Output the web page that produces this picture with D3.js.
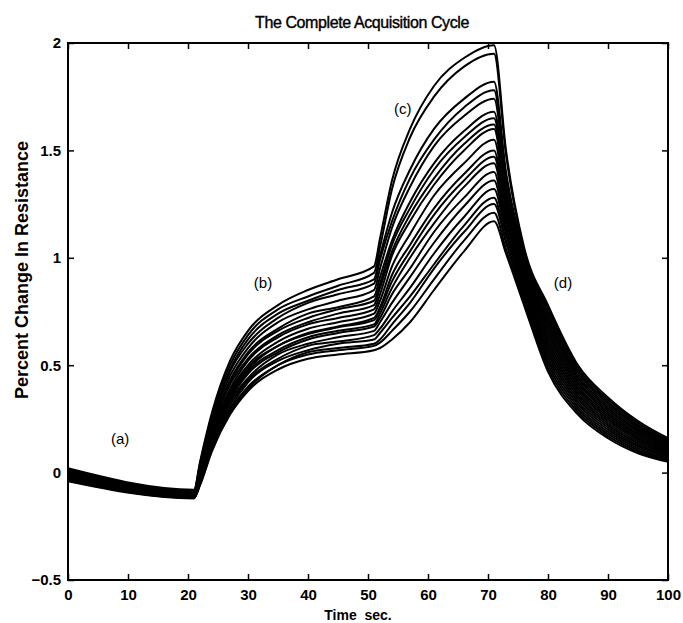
<!DOCTYPE html>
<html>
<head>
<meta charset="utf-8">
<script src="https://cdn.jsdelivr.net/npm/d3@7"></script>
<style>
    body { margin: 0; background: #fff; }
    .chart text { font-family: "Liberation Sans", Arial, sans-serif; fill: #000; }
</style>
</head>
<body>
<div class="chart"></div>
<script>
// sample times (sec) shared by every run
const timeSec = [0, 21, 22, 24, 27, 30, 35, 40, 45, 51, 52, 54, 57, 61, 66, 71, 73, 76, 80, 85, 90, 95, 100];

// percent change in resistance, one array per acquisition run (top to bottom)
const run01 = [0.02, -0.08, 0.05, 0.28, 0.52, 0.66, 0.78, 0.85, 0.90, 0.96, 1.09, 1.36, 1.60, 1.80, 1.93, 1.99, 1.50, 1.05, 0.78, 0.50, 0.35, 0.24, 0.16];
const run02 = [0.015, -0.083, 0.04, 0.27, 0.50, 0.64, 0.76, 0.82, 0.87, 0.93, 1.05, 1.32, 1.56, 1.75, 1.89, 1.95, 1.48, 1.036, 0.764, 0.488, 0.34, 0.232, 0.154];
const run03 = [0.011, -0.086, 0.03, 0.25, 0.48, 0.62, 0.74, 0.80, 0.85, 0.90, 1.01, 1.21, 1.41, 1.60, 1.74, 1.82, 1.40, 1.022, 0.747, 0.476, 0.33, 0.224, 0.148];
const run04 = [0.008, -0.088, 0.03, 0.24, 0.47, 0.60, 0.72, 0.79, 0.83, 0.88, 0.99, 1.17, 1.37, 1.55, 1.70, 1.78, 1.38, 1.007, 0.731, 0.464, 0.32, 0.216, 0.143];
const run05 = [0.003, -0.091, 0.02, 0.23, 0.45, 0.58, 0.70, 0.76, 0.80, 0.85, 0.95, 1.14, 1.33, 1.52, 1.66, 1.74, 1.36, 0.993, 0.715, 0.451, 0.31, 0.208, 0.137];
const run06 = [-0.002, -0.094, 0.01, 0.22, 0.43, 0.56, 0.67, 0.74, 0.77, 0.82, 0.91, 1.08, 1.26, 1.44, 1.59, 1.68, 1.32, 0.979, 0.698, 0.44, 0.30, 0.20, 0.131];
const run07 = [-0.005, -0.096, 0.005, 0.21, 0.42, 0.55, 0.66, 0.72, 0.76, 0.80, 0.88, 1.06, 1.23, 1.41, 1.56, 1.65, 1.30, 0.965, 0.682, 0.427, 0.29, 0.193, 0.125];
const run08 = [-0.008, -0.098, -0.001, 0.20, 0.41, 0.53, 0.64, 0.70, 0.74, 0.78, 0.86, 1.03, 1.20, 1.37, 1.53, 1.62, 1.28, 0.951, 0.666, 0.415, 0.28, 0.185, 0.12];
const run09 = [-0.011, -0.10, -0.006, 0.19, 0.39, 0.52, 0.63, 0.69, 0.72, 0.76, 0.83, 1.01, 1.17, 1.34, 1.50, 1.60, 1.27, 0.936, 0.649, 0.403, 0.27, 0.177, 0.114];
const run10 = [-0.014, -0.102, -0.012, 0.18, 0.38, 0.50, 0.61, 0.67, 0.70, 0.74, 0.80, 0.96, 1.11, 1.29, 1.44, 1.55, 1.24, 0.922, 0.633, 0.391, 0.26, 0.169, 0.108];
const run11 = [-0.017, -0.105, -0.018, 0.17, 0.37, 0.49, 0.59, 0.65, 0.68, 0.72, 0.77, 0.92, 1.06, 1.23, 1.39, 1.50, 1.21, 0.908, 0.617, 0.379, 0.25, 0.161, 0.102];
const run12 = [-0.018, -0.106, -0.02, 0.165, 0.36, 0.48, 0.59, 0.645, 0.676, 0.71, 0.76, 0.89, 1.03, 1.20, 1.36, 1.47, 1.20, 0.894, 0.60, 0.367, 0.24, 0.153, 0.096];
const run13 = [-0.021, -0.108, -0.026, 0.156, 0.35, 0.47, 0.57, 0.63, 0.66, 0.69, 0.74, 0.86, 1.00, 1.16, 1.33, 1.44, 1.18, 0.879, 0.584, 0.355, 0.23, 0.145, 0.09];
const run14 = [-0.023, -0.109, -0.029, 0.15, 0.34, 0.46, 0.56, 0.62, 0.65, 0.68, 0.72, 0.83, 0.95, 1.12, 1.28, 1.40, 1.15, 0.865, 0.568, 0.343, 0.22, 0.137, 0.085];
const run15 = [-0.026, -0.111, -0.035, 0.141, 0.33, 0.44, 0.55, 0.60, 0.63, 0.66, 0.70, 0.79, 0.91, 1.07, 1.24, 1.36, 1.13, 0.851, 0.552, 0.33, 0.21, 0.129, 0.079];
const run16 = [-0.029, -0.113, -0.04, 0.132, 0.315, 0.43, 0.53, 0.59, 0.61, 0.64, 0.67, 0.75, 0.86, 1.02, 1.19, 1.32, 1.11, 0.837, 0.535, 0.319, 0.20, 0.122, 0.073];
const run17 = [-0.032, -0.115, -0.046, 0.123, 0.30, 0.42, 0.52, 0.57, 0.60, 0.62, 0.65, 0.72, 0.82, 0.97, 1.15, 1.28, 1.08, 0.823, 0.519, 0.306, 0.19, 0.114, 0.067];
const run18 = [-0.035, -0.117, -0.051, 0.114, 0.29, 0.40, 0.50, 0.56, 0.58, 0.60, 0.62, 0.69, 0.79, 0.95, 1.12, 1.25, 1.07, 0.808, 0.503, 0.294, 0.18, 0.106, 0.062];
const run19 = [-0.037, -0.118, -0.055, 0.109, 0.28, 0.39, 0.50, 0.55, 0.57, 0.59, 0.605, 0.66, 0.75, 0.90, 1.08, 1.21, 1.04, 0.794, 0.486, 0.282, 0.17, 0.098, 0.056];
const run20 = [-0.04, -0.12, -0.06, 0.10, 0.27, 0.38, 0.48, 0.53, 0.55, 0.57, 0.58, 0.62, 0.70, 0.85, 1.03, 1.17, 1.02, 0.78, 0.47, 0.27, 0.16, 0.09, 0.05];
const runs = [run01, run02, run03, run04, run05, run06, run07, run08, run09, run10,
              run11, run12, run13, run14, run15, run16, run17, run18, run19, run20];

// phase labels
const noteText = ["(a)", "(b)", "(c)", "(d)"];
const noteTime = [8.7, 32.5, 55.8, 82.5];
const noteValue = [0.15, 0.88, 1.69, 0.88];

// ticks
const xTicks = [0, 10, 20, 30, 40, 50, 60, 70, 80, 90, 100];
const yTicks = [-0.5, 0, 0.5, 1, 1.5, 2];
const yTickLabels = ["\u22120.5", "0", "0.5", "1", "1.5", "2"];

const totalW = 683, totalH = 623;
const margin = { top: 43, right: 15, bottom: 43, left: 68 };
const width = totalW - margin.left - margin.right;
const height = totalH - margin.top - margin.bottom;

const svg = d3.select(".chart")
    .append("svg")
    .attr("width", totalW)
    .attr("height", totalH);

const g = svg.append("g")
    .attr("transform", "translate(" + margin.left + "," + margin.top + ")");

const x = d3.scaleLinear().domain([0, 100]).range([0, width]);
const y = d3.scaleLinear().domain([-0.5, 2]).range([height, 0]);

// curves
const line = d3.line()
    .x((d, i) => x(timeSec[i]))
    .y(d => y(d))
    .curve(d3.curveMonotoneX);

g.append("g")
    .selectAll("path")
    .data(runs)
    .enter()
    .append("path")
    .attr("d", line)
    .attr("fill", "none")
    .attr("stroke", "#000")
    .attr("stroke-width", 2);

// axes, ticks pointing inward like matlab
const tickLen = 6;
g.append("g")
    .attr("transform", "translate(0," + height + ")")
    .call(d3.axisBottom(x).tickValues(xTicks).tickSizeInner(-tickLen).tickSizeOuter(0).tickPadding(9));
g.append("g")
    .call(d3.axisLeft(y).tickValues(yTicks).tickFormat((d, i) => yTickLabels[i])
        .tickSizeInner(-tickLen).tickSizeOuter(0).tickPadding(7));
g.append("g")
    .call(d3.axisTop(x).tickValues(xTicks).tickFormat("").tickSizeInner(-tickLen).tickSizeOuter(0));
g.append("g")
    .attr("transform", "translate(" + width + ",0)")
    .call(d3.axisRight(y).tickValues(yTicks).tickFormat("").tickSizeInner(-tickLen).tickSizeOuter(0));

g.selectAll(".domain").remove();
g.selectAll(".tick line").attr("stroke", "#000").attr("stroke-width", 1.5);
g.selectAll(".tick text")
    .attr("font-size", 15)
    .attr("font-weight", "bold")
    .style("font-family", "'Liberation Sans', Arial, sans-serif");

g.append("rect")
    .attr("width", width)
    .attr("height", height)
    .attr("fill", "none")
    .attr("stroke", "#000")
    .attr("stroke-width", 2);

// phase notes
g.selectAll(".note")
    .data(noteText)
    .enter()
    .append("text")
    .attr("class", "note")
    .attr("x", (d, i) => x(noteTime[i]))
    .attr("y", (d, i) => y(noteValue[i]))
    .attr("text-anchor", "middle")
    .attr("dominant-baseline", "middle")
    .attr("font-size", 15)
    .text(d => d);

// title and axis labels
svg.append("text")
    .attr("x", 362)
    .attr("y", 28)
    .attr("text-anchor", "middle")
    .attr("font-size", 16)
    .attr("letter-spacing", -0.4)
    .attr("stroke", "#000")
    .attr("stroke-width", 0.4)
    .text("The Complete Acquisition Cycle");

svg.append("text")
    .attr("x", margin.left + width / 2 - 10)
    .attr("y", totalH - 3)
    .attr("text-anchor", "middle")
    .attr("font-size", 14)
    .attr("font-weight", "bold")
    .attr("xml:space", "preserve")
    .text("Time  sec.");

svg.append("text")
    .attr("transform", "translate(28,270) rotate(-90)")
    .attr("text-anchor", "middle")
    .attr("font-size", 18)
    .attr("font-weight", "bold")
    .text("Percent Change In Resistance");
</script>
</body>
</html>
